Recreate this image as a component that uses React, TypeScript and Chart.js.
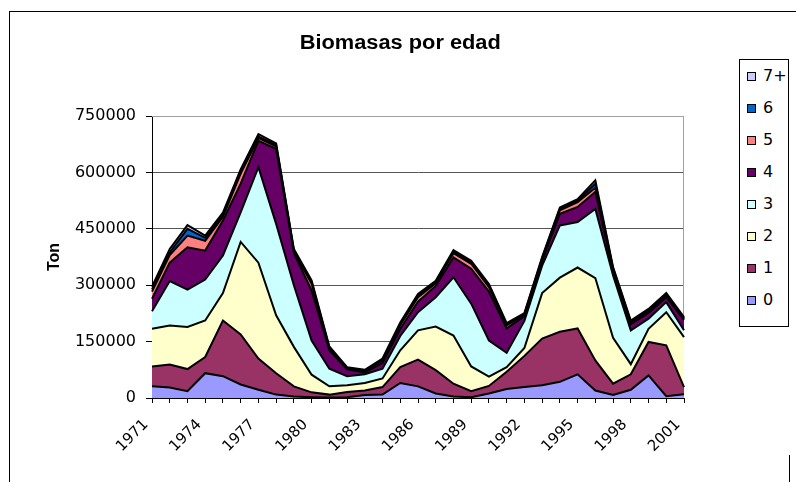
import React, { useEffect, useRef } from 'react';
import { Chart, registerables } from 'chart.js';

Chart.register(...registerables);

const TITLE = 'Biomasas por edad';
const Y_TITLE = 'Ton';
const YEARS = ['1971','1972','1973','1974','1975','1976','1977','1978','1979','1980','1981','1982','1983','1984','1985','1986','1987','1988','1989','1990','1991','1992','1993','1994','1995','1996','1997','1998','1999','2000','2001'];
const Y_MAX = 750000;
const Y_STEP = 150000;

const AGE_0 = [31000,28000,18000,66000,58000,36000,22000,9000,4000,2000,1000,2000,8000,9000,40000,31000,12000,4000,2000,12000,24000,29000,34000,43000,63000,20000,8000,22000,60000,5000,10000];
const AGE_1 = [53000,61000,59000,43000,148000,133000,83000,57000,27000,13000,8000,14000,12000,20000,42000,71000,62000,34000,16000,20000,46000,83000,124000,133000,122000,80000,30000,41000,89000,135000,19000];
const AGE_2 = [100000,104000,112000,97000,73000,246000,255000,154000,105000,47000,22000,18000,20000,23000,45000,78000,116000,128000,66000,25000,12000,21000,121000,144000,162000,219000,122000,27000,35000,88000,133000];
const AGE_3 = [47000,118000,99000,109000,100000,79000,254000,243000,164000,91000,47000,24000,23000,26000,38000,48000,78000,155000,167000,96000,38000,72000,73000,139000,121000,184000,166000,90000,27000,27000,18000];
const AGE_4 = [33000,49000,113000,77000,93000,76000,70000,200000,86000,133000,49000,18000,5000,15000,19000,28000,30000,53000,93000,130000,65000,13000,13000,31000,40000,45000,13000,16000,15000,13000,28000];
const AGE_5 = [19000,20000,31000,26000,10000,27000,7000,6000,4000,18000,4000,3000,3000,6000,10000,12000,7000,11000,13000,12000,8000,3000,4000,9000,13000,11000,3000,4000,4000,4000,2000];
const AGE_6 = [6000,7000,18000,8000,5000,5000,4000,4000,3000,4000,3000,1000,2000,3000,3000,4000,4000,4000,4000,4000,3000,2000,3000,4000,4000,11000,3000,3000,4000,3000,2000];
const AGE_7PLUS = [7000,9000,10000,6000,6000,6000,7000,4000,3000,5000,3000,2000,2000,3000,4000,5000,3000,4000,4000,4000,3000,3000,3000,4000,4000,9000,3000,3000,3000,4000,3000];

const SERIES_NAMES = ['0', '1', '2', '3', '4', '5', '6', '7+'];
const SERIES_COLORS = ['#9999FF', '#993366', '#FFFFCC', '#CCFFFF', '#660066', '#FF8080', '#0066CC', '#CCCCFF'];
const SERIES_VALUES = [AGE_0, AGE_1, AGE_2, AGE_3, AGE_4, AGE_5, AGE_6, AGE_7PLUS];

const TICK_FONT = { family: 'DejaVu Sans', size: 16 };
const X_TICK_FONT = { family: 'DejaVu Sans', size: 15 };

export default function App() {
  const ref = useRef<HTMLCanvasElement>(null);

  useEffect(() => {
    const canvas = ref.current;
    if (!canvas) return;
    const plotBorder = {
      id: 'plotBorder',
      beforeDatasetsDraw(chart: any) {
        const { ctx, chartArea: a } = chart;
        ctx.save();
        ctx.strokeStyle = '#a0a0a0';
        ctx.lineWidth = 1;
        ctx.beginPath();
        ctx.moveTo(a.left, Math.round(a.top) + 0.5);
        ctx.lineTo(Math.round(a.right) - 0.5, Math.round(a.top) + 0.5);
        ctx.lineTo(Math.round(a.right) - 0.5, a.bottom);
        ctx.stroke();
        ctx.restore();
      },
    };
    const chart = new Chart(canvas, {
      type: 'line',
      data: {
        labels: YEARS,
        datasets: SERIES_VALUES.map((vals, i) => ({
          label: SERIES_NAMES[i],
          data: vals,
          backgroundColor: SERIES_COLORS[i],
          borderColor: '#000',
          borderWidth: 2,
          fill: i === 0 ? 'origin' : '-1',
          pointRadius: 0,
          pointHoverRadius: 0,
          tension: 0,
        })),
      },
      options: {
        responsive: false,
        animation: false,
        devicePixelRatio: 1,
        layout: { padding: { left: 0, top: 116, right: 112, bottom: 0 } },
        plugins: {
          legend: { display: false },
          title: { display: false },
          tooltip: { enabled: false },
        },
        scales: {
          x: {
            offset: false,
            grid: { display: true, drawOnChartArea: false, drawTicks: true, tickLength: 5, color: '#000' },
            border: { display: true, color: '#000', width: 1 },
            ticks: {
              autoSkip: false,
              maxRotation: 45,
              minRotation: 45,
              padding: 13,
              labelOffset: -6,
              color: '#000',
              font: X_TICK_FONT,
              callback: (_v: any, i: number) => (i % 3 === 0 ? YEARS[i] : ''),
            },
            afterFit: (s: any) => { s.height = 84; },
          },
          y: {
            stacked: true,
            min: 0,
            max: Y_MAX,
            grid: {
              color: (c: any) => (c.tick && c.tick.value === Y_MAX ? '#a0a0a0' : '#555'),
              tickColor: '#000',
              tickLength: 6,
              lineWidth: 1,
            },
            border: { display: true, color: '#000', width: 1 },
            ticks: {
              stepSize: Y_STEP,
              padding: 10,
              color: '#000',
              font: TICK_FONT,
              callback: (v: any) => String(v),
            },
            title: {
              display: true,
              text: Y_TITLE,
              color: '#000',
              font: { family: 'Liberation Sans', size: 16, weight: 'bold' },
              padding: { top: 45, bottom: 0 },
            },
            afterFit: (s: any) => { s.width = 152; },
          },
        },
      },
      plugins: [plotBorder],
    });
    return () => chart.destroy();
  }, []);

  const legendItems = SERIES_NAMES.map((n, i) => ({ name: n, color: SERIES_COLORS[i] })).reverse();

  return (
    <>
      <div style={{ position: 'absolute', left: 9, top: 11, width: 787, height: 471, boxSizing: 'border-box', borderTop: '1px solid #000', borderLeft: '1px solid #000' }} />
      <div style={{ position: 'absolute', left: 789, top: 455, width: 1, height: 27, background: '#000' }} />
      <canvas ref={ref} width={796} height={482} style={{ position: 'absolute', left: 0, top: 0, width: 796, height: 482 }} />
      <div style={{ position: 'absolute', left: 0, top: 30, width: 800, textAlign: 'center', fontFamily: 'Liberation Sans', fontWeight: 'bold', fontSize: 20, lineHeight: '24px', color: '#000' }}>
        <span style={{ display: 'inline-block', transform: 'scaleX(1.09)' }}>{TITLE}</span>
      </div>
      <div style={{ position: 'absolute', left: 739, top: 59, width: 50, height: 268, boxSizing: 'border-box', border: '1px solid #000', background: '#fff' }}>
        {legendItems.map((it, k) => (
          <div key={it.name} style={{ position: 'absolute', left: 7, top: 17 - 1 + k * 32 - 10, height: 20, display: 'flex', alignItems: 'center' }}>
            <div style={{ width: 9, height: 9, boxSizing: 'border-box', border: '1px solid #000', background: it.color }} />
            <span style={{ marginLeft: 7, fontFamily: 'DejaVu Sans', fontSize: 16, color: '#000', lineHeight: '20px' }}>{it.name}</span>
          </div>
        ))}
      </div>
    </>
  );
}
